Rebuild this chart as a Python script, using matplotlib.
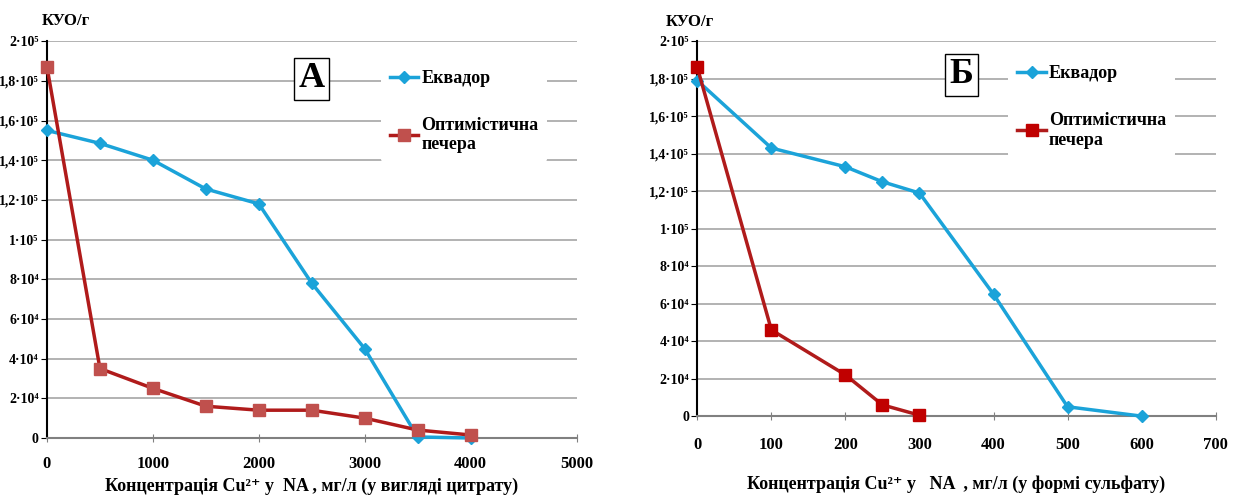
import matplotlib
matplotlib.use("Agg")
import matplotlib.pyplot as plt

plt.rcParams['font.family'] = ['Liberation Serif', 'DejaVu Serif']
plt.rcParams['font.weight'] = 'bold'

# panel A: citrate
xa = [0, 500, 1000, 1500, 2000, 2500, 3000, 3500, 4000]
ekvador_a = [155000, 148500, 140000, 125500, 118000, 78000, 45000, 500, 0]
pechera_a = [187000, 35000, 25000, 16000, 14000, 14000, 10000, 4000, 1500]

# panel B: sulfate
xb_ekv = [0, 100, 200, 250, 300, 400, 500, 600]
ekvador_b = [179000, 143000, 133000, 125000, 119000, 65000, 5000, 0]
xb_pech = [0, 100, 200, 250, 300]
pechera_b = [186000, 46000, 22000, 6000, 500]

yticks = [0, 20000, 40000, 60000, 80000, 100000, 120000, 140000, 160000, 180000, 200000]
ylabels = ['0', '2·10⁴', '4·10⁴', '6·10⁴', '8·10⁴', '1·10⁵',
           '1,2·10⁵', '1,4·10⁵', '1,6·10⁵', '1,8·10⁵', '2·10⁵']

blue = '#1BA3D9'
red_line = '#B01B1B'

fig = plt.figure(figsize=(12.43, 4.96), dpi=100)
ax_a = fig.add_axes([0.0378, 0.117, 0.426, 0.800])
ax_b = fig.add_axes([0.561, 0.161, 0.417, 0.756])


def style(ax, xmax, xstep, pad):
    ax.set_ylim(0, 200000)
    ax.set_xlim(0, xmax)
    ax.set_yticks(yticks)
    ax.set_yticklabels(ylabels, fontsize=10, fontweight='bold')
    ax.set_xticks(range(0, xmax + 1, xstep))
    ax.tick_params(axis='x', labelsize=12, direction='inout', length=6,
                   color='#808080', pad=pad)
    ax.tick_params(axis='y', direction='out', length=4, pad=2)
    for lab in ax.get_xticklabels():
        lab.set_fontweight('bold')
    ax.grid(axis='y', color='#A6A6A6', lw=1.2)
    ax.set_axisbelow(True)
    ax.spines['top'].set_visible(False)
    ax.spines['right'].set_visible(False)
    ax.spines['left'].set_color('black')
    ax.spines['left'].set_linewidth(1.5)
    ax.spines['bottom'].set_color('#808080')
    ax.spines['bottom'].set_linewidth(1.5)


# A
style(ax_a, 5000, 1000, 10)
ax_a.plot(xa, ekvador_a, color=blue, lw=2.5, marker='D', ms=6,
          label='Еквадор', clip_on=False, zorder=3)
ax_a.plot(xa, pechera_a, color=red_line, lw=2.5, marker='s', ms=9,
          mfc='#C0504D', mec='#C0504D', label='Оптимістична\nпечера',
          clip_on=False, zorder=4)
ax_a.set_xlabel('Концентрація Cu²⁺ у  NA , мг/л (у вигляді цитрату)',
                fontsize=13, fontweight='bold', labelpad=4)
ax_a.text(-0.01, 1.03, 'КУО/г', transform=ax_a.transAxes, fontsize=12,
          fontweight='bold', ha='left', va='bottom')
ax_a.text(0.50, 0.905, 'А', transform=ax_a.transAxes, fontsize=26,
          fontweight='bold', ha='center', va='center',
          bbox=dict(boxstyle='square,pad=0.12', fc='white', ec='black', lw=1))
ax_a.legend(loc='upper left', bbox_to_anchor=(0.63, 0.95), frameon=True,
            facecolor='white', edgecolor='none', framealpha=1,
            prop={'size': 13, 'weight': 'bold'}, handlelength=1.6,
            handletextpad=0.15, labelspacing=1.65, borderaxespad=0,
            borderpad=0.5)

# B
style(ax_b, 700, 100, 12)
ax_b.plot(xb_ekv, ekvador_b, color=blue, lw=2.5, marker='D', ms=6,
          label='Еквадор', clip_on=False, zorder=3)
ax_b.plot(xb_pech, pechera_b, color=red_line, lw=2.5, marker='s', ms=9,
          mfc='#C00000', mec='#C00000', label='Оптимістична\nпечера',
          clip_on=False, zorder=4)
ax_b.set_xlabel('Концентрація Cu²⁺ у   NA  , мг/л (у формі сульфату)',
                fontsize=13, fontweight='bold', labelpad=16)
ax_b.text(-0.06, 1.03, 'КУО/г', transform=ax_b.transAxes, fontsize=12,
          fontweight='bold', ha='left', va='bottom')
ax_b.text(0.51, 0.91, 'Б', transform=ax_b.transAxes, fontsize=26,
          fontweight='bold', ha='center', va='center',
          bbox=dict(boxstyle='square,pad=0.12', fc='white', ec='black', lw=1))
ax_b.legend(loc='upper left', bbox_to_anchor=(0.60, 0.96), frameon=True,
            facecolor='white', edgecolor='none', framealpha=1,
            prop={'size': 13, 'weight': 'bold'}, handlelength=1.6,
            handletextpad=0.15, labelspacing=1.65, borderaxespad=0,
            borderpad=0.5)

fig.savefig('out.png', dpi=100)
